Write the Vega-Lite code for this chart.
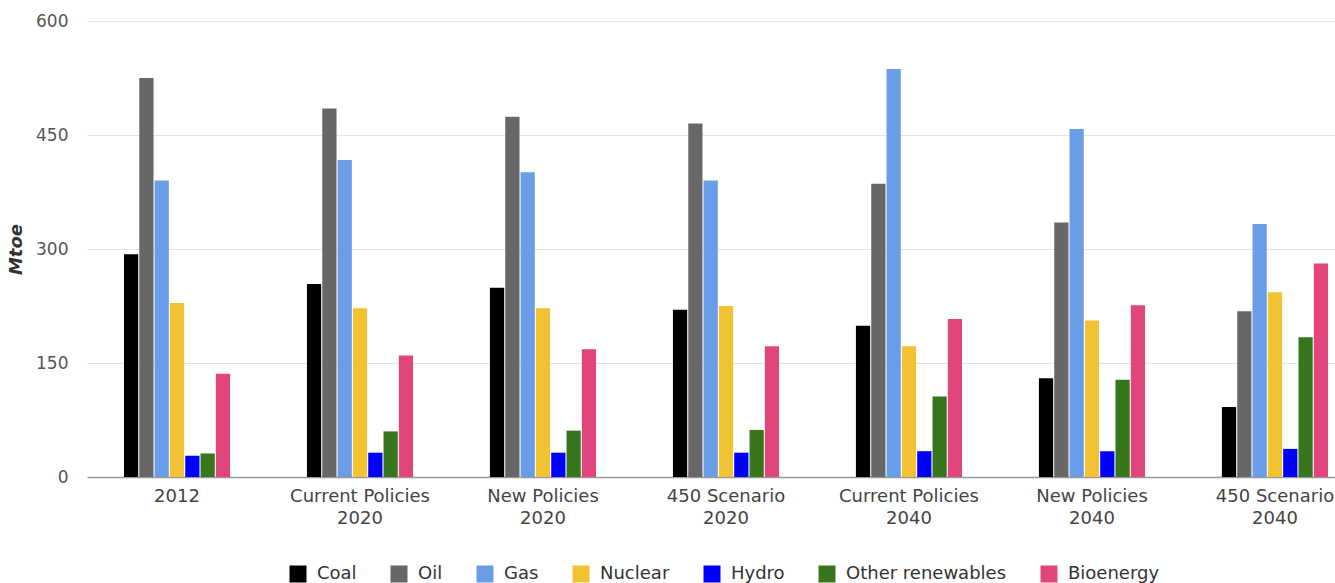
{
  "$schema": "https://vega.github.io/schema/vega-lite/v6.json",
  "autosize": {"type": "none"},
  "width": 1248,
  "height": 456,
  "padding": {"left": 87, "top": 21, "right": 0, "bottom": 106},
  "background": "#ffffff",
  "data": {
    "values": [
      {"scenario": "2012", "fuel": "Coal", "value": 293},
      {"scenario": "2012", "fuel": "Oil", "value": 525},
      {"scenario": "2012", "fuel": "Gas", "value": 390},
      {"scenario": "2012", "fuel": "Nuclear", "value": 229},
      {"scenario": "2012", "fuel": "Hydro", "value": 28},
      {"scenario": "2012", "fuel": "Other renewables", "value": 31},
      {"scenario": "2012", "fuel": "Bioenergy", "value": 136},
      {"scenario": "Current Policies 2020", "fuel": "Coal", "value": 254},
      {"scenario": "Current Policies 2020", "fuel": "Oil", "value": 485},
      {"scenario": "Current Policies 2020", "fuel": "Gas", "value": 417},
      {"scenario": "Current Policies 2020", "fuel": "Nuclear", "value": 222},
      {"scenario": "Current Policies 2020", "fuel": "Hydro", "value": 32},
      {"scenario": "Current Policies 2020", "fuel": "Other renewables", "value": 60},
      {"scenario": "Current Policies 2020", "fuel": "Bioenergy", "value": 160},
      {"scenario": "New Policies 2020", "fuel": "Coal", "value": 249},
      {"scenario": "New Policies 2020", "fuel": "Oil", "value": 474},
      {"scenario": "New Policies 2020", "fuel": "Gas", "value": 401},
      {"scenario": "New Policies 2020", "fuel": "Nuclear", "value": 222},
      {"scenario": "New Policies 2020", "fuel": "Hydro", "value": 32},
      {"scenario": "New Policies 2020", "fuel": "Other renewables", "value": 61},
      {"scenario": "New Policies 2020", "fuel": "Bioenergy", "value": 168},
      {"scenario": "450 Scenario 2020", "fuel": "Coal", "value": 220},
      {"scenario": "450 Scenario 2020", "fuel": "Oil", "value": 465},
      {"scenario": "450 Scenario 2020", "fuel": "Gas", "value": 390},
      {"scenario": "450 Scenario 2020", "fuel": "Nuclear", "value": 225},
      {"scenario": "450 Scenario 2020", "fuel": "Hydro", "value": 32},
      {"scenario": "450 Scenario 2020", "fuel": "Other renewables", "value": 62},
      {"scenario": "450 Scenario 2020", "fuel": "Bioenergy", "value": 172},
      {"scenario": "Current Policies 2040", "fuel": "Coal", "value": 199},
      {"scenario": "Current Policies 2040", "fuel": "Oil", "value": 386},
      {"scenario": "Current Policies 2040", "fuel": "Gas", "value": 537},
      {"scenario": "Current Policies 2040", "fuel": "Nuclear", "value": 172},
      {"scenario": "Current Policies 2040", "fuel": "Hydro", "value": 34},
      {"scenario": "Current Policies 2040", "fuel": "Other renewables", "value": 106},
      {"scenario": "Current Policies 2040", "fuel": "Bioenergy", "value": 208},
      {"scenario": "New Policies 2040", "fuel": "Coal", "value": 130},
      {"scenario": "New Policies 2040", "fuel": "Oil", "value": 335},
      {"scenario": "New Policies 2040", "fuel": "Gas", "value": 458},
      {"scenario": "New Policies 2040", "fuel": "Nuclear", "value": 206},
      {"scenario": "New Policies 2040", "fuel": "Hydro", "value": 34},
      {"scenario": "New Policies 2040", "fuel": "Other renewables", "value": 128},
      {"scenario": "New Policies 2040", "fuel": "Bioenergy", "value": 226},
      {"scenario": "450 Scenario 2040", "fuel": "Coal", "value": 92},
      {"scenario": "450 Scenario 2040", "fuel": "Oil", "value": 218},
      {"scenario": "450 Scenario 2040", "fuel": "Gas", "value": 333},
      {"scenario": "450 Scenario 2040", "fuel": "Nuclear", "value": 243},
      {"scenario": "450 Scenario 2040", "fuel": "Hydro", "value": 37},
      {"scenario": "450 Scenario 2040", "fuel": "Other renewables", "value": 184},
      {"scenario": "450 Scenario 2040", "fuel": "Bioenergy", "value": 281}
    ]
  },
  "mark": {"type": "bar"},
  "encoding": {
    "x": {
      "field": "scenario",
      "type": "nominal",
      "sort": null,
      "scale": {"paddingInner": 0.42, "paddingOuter": 0.202, "range": [0, 1278]},
      "axis": {
        "title": null,
        "labelAngle": 0,
        "labelExpr": "datum.label == '2012' ? '2012' : [slice(datum.label, 0, length(datum.label) - 5), slice(datum.label, -4)]",
        "labelFontSize": 18,
        "labelLineHeight": 22,
        "labelColor": "#444444",
        "labelPadding": 10,
        "ticks": false,
        "domainColor": "#999999",
        "domainWidth": 1.5,
        "grid": false,
        "labelOverlap": false
      }
    },
    "xOffset": {
      "field": "fuel",
      "type": "nominal",
      "sort": ["Coal", "Oil", "Gas", "Nuclear", "Hydro", "Other renewables", "Bioenergy"],
      "scale": {"paddingInner": 0.07, "paddingOuter": 0}
    },
    "y": {
      "field": "value",
      "type": "quantitative",
      "scale": {"domain": [0, 600], "nice": false},
      "axis": {
        "title": "Mtoe",
        "titleFontSize": 18,
        "titleFontWeight": "bold",
        "titleFontStyle": "italic",
        "titleColor": "#333333",
        "titlePadding": 10,
        "values": [0, 150, 300, 450, 600],
        "labelFontSize": 17,
        "labelColor": "#555555",
        "labelPadding": 19,
        "ticks": false,
        "domain": false,
        "gridColor": "#e4e4e4",
        "gridWidth": 1
      }
    },
    "color": {
      "field": "fuel",
      "type": "nominal",
      "scale": {
        "domain": ["Coal", "Oil", "Gas", "Nuclear", "Hydro", "Other renewables", "Bioenergy"],
        "range": ["#000000", "#676767", "#6a9de8", "#f1c232", "#0000ff", "#38761d", "#e0457b"]
      },
      "legend": {
        "title": null,
        "orient": "none",
        "legendX": 202,
        "legendY": 544,
        "direction": "horizontal",
        "symbolType": "square",
        "symbolSize": 289,
        "symbolStrokeWidth": 0,
        "labelFontSize": 18,
        "labelColor": "#333333",
        "labelOffset": 10,
        "labelLimit": 300,
        "columnPadding": 33
      }
    }
  },
  "config": {
    "font": "DejaVu Sans",
    "view": {"stroke": null}
  }
}
